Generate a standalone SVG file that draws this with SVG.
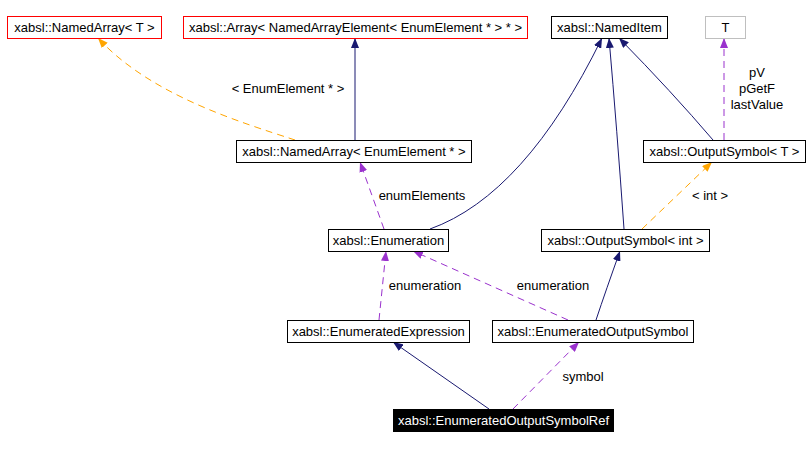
<svg xmlns="http://www.w3.org/2000/svg" width="811" height="449" viewBox="0 0 811 449">
<style>
  .box { fill: #ffffff; stroke: #000000; stroke-width: 1; }
  .red { stroke: #ff0000; }
  .gray { stroke: #bfbfbf; }
  .sel { fill: #000000; stroke: #000000; }
  text { font-family: "Liberation Sans", Arial, Helvetica, sans-serif; font-size: 13px; fill: #000000; }
  .nt { text-anchor: middle; }
  .wt { fill: #ffffff; }
  .lbl { text-anchor: middle; }
  .e { fill: none; stroke-width: 1; }
  .navy { stroke: #191970; }
  .purple { stroke: #9a32cd; stroke-dasharray: 7,5; }
  .orange { stroke: #ffa500; stroke-dasharray: 7,5; }
</style>
<defs>
  <marker id="aNavy" viewBox="0 0 10 8" refX="10" refY="4" markerWidth="10" markerHeight="8" markerUnits="userSpaceOnUse" orient="auto">
    <path d="M0,0 L10,4 L0,8 z" fill="#191970"/>
  </marker>
  <marker id="aPurple" viewBox="0 0 10 8" refX="10" refY="4" markerWidth="10" markerHeight="8" markerUnits="userSpaceOnUse" orient="auto">
    <path d="M0,0 L10,4 L0,8 z" fill="#9a32cd"/>
  </marker>
  <marker id="aOrange" viewBox="0 0 10 8" refX="10" refY="4" markerWidth="10" markerHeight="8" markerUnits="userSpaceOnUse" orient="auto">
    <path d="M0,0 L10,4 L0,8 z" fill="#ffa500"/>
  </marker>
</defs>
<rect width="811" height="449" fill="#ffffff"/>

<g id="connectors">
  <path class="e orange" d="M295,140 C240,122 150,95 98,38" marker-end="url(#aOrange)"/>
  <text class="lbl" x="288" y="93">&lt; EnumElement * &gt;</text>
  <path class="e navy" d="M355,140 L355,38" marker-end="url(#aNavy)"/>
  <path class="e purple" d="M384,229 L360,162" marker-end="url(#aPurple)"/>
  <text class="lbl" x="422" y="200">enumElements</text>
  <path class="e navy" d="M430,229 Q525,195 602,38" marker-end="url(#aNavy)"/>
  <path class="e navy" d="M624,229 Q617,130 609,38" marker-end="url(#aNavy)"/>
  <path class="e navy" d="M713,140 Q672,92 619,38" marker-end="url(#aNavy)"/>
  <path class="e purple" d="M724,140 L724,38" marker-end="url(#aPurple)"/>
  <text class="lbl" x="757" y="77">pV</text>
  <text class="lbl" x="757" y="93">pGetF</text>
  <text class="lbl" x="757" y="109">lastValue</text>
  <path class="e orange" d="M642,229 L712,162" marker-end="url(#aOrange)"/>
  <text class="lbl" x="710" y="200">&lt; int &gt;</text>
  <path class="e purple" d="M379,320 L386,251" marker-end="url(#aPurple)"/>
  <text class="lbl" x="425" y="290">enumeration</text>
  <path class="e purple" d="M568,320 L413,251" marker-end="url(#aPurple)"/>
  <text class="lbl" x="553" y="290">enumeration</text>
  <path class="e navy" d="M596,320 Q606,290 620,251" marker-end="url(#aNavy)"/>
  <path class="e navy" d="M489,409 L393,342" marker-end="url(#aNavy)"/>
  <path class="e purple" d="M513,409 L579,342" marker-end="url(#aPurple)"/>
  <text class="lbl" x="583" y="381">symbol</text>
</g>

<g id="n_NamedArrayT"><rect class="box red" x="7.5" y="16.5" width="154" height="22"/><text class="nt" x="84.5" y="32">xabsl::NamedArray&lt; T &gt;</text></g>
<g id="n_Array"><rect class="box red" x="183.5" y="16.5" width="344" height="22"/><text class="nt" x="355.5" y="32">xabsl::Array&lt; NamedArrayElement&lt; EnumElement * &gt; * &gt;</text></g>
<g id="n_NamedItem"><rect class="box" x="551.5" y="16.5" width="116" height="22"/><text class="nt" x="609.5" y="32">xabsl::NamedItem</text></g>
<g id="n_T"><rect class="box gray" x="705.5" y="16.5" width="40" height="22"/><text class="nt" x="725.5" y="32">T</text></g>
<g id="n_NamedArrayEE"><rect class="box" x="236.5" y="140.5" width="235" height="22"/><text class="nt" x="354" y="156">xabsl::NamedArray&lt; EnumElement * &gt;</text></g>
<g id="n_OutputSymbolT"><rect class="box" x="643.5" y="140.5" width="162" height="22"/><text class="nt" x="724.5" y="156">xabsl::OutputSymbol&lt; T &gt;</text></g>
<g id="n_Enumeration"><rect class="box" x="328.5" y="229.5" width="120" height="22"/><text class="nt" x="388.5" y="245">xabsl::Enumeration</text></g>
<g id="n_OutputSymbolInt"><rect class="box" x="541.5" y="229.5" width="168" height="22"/><text class="nt" x="625.5" y="245">xabsl::OutputSymbol&lt; int &gt;</text></g>
<g id="n_EnumeratedExpression"><rect class="box" x="287.5" y="320.5" width="182" height="22"/><text class="nt" x="378.5" y="336">xabsl::EnumeratedExpression</text></g>
<g id="n_EnumeratedOutputSymbol"><rect class="box" x="492.5" y="320.5" width="201" height="22"/><text class="nt" x="593" y="336">xabsl::EnumeratedOutputSymbol</text></g>
<g id="n_EnumeratedOutputSymbolRef"><rect class="box sel" x="393.5" y="409.5" width="220" height="22"/><text class="nt wt" x="503.5" y="425">xabsl::EnumeratedOutputSymbolRef</text></g>
</svg>
